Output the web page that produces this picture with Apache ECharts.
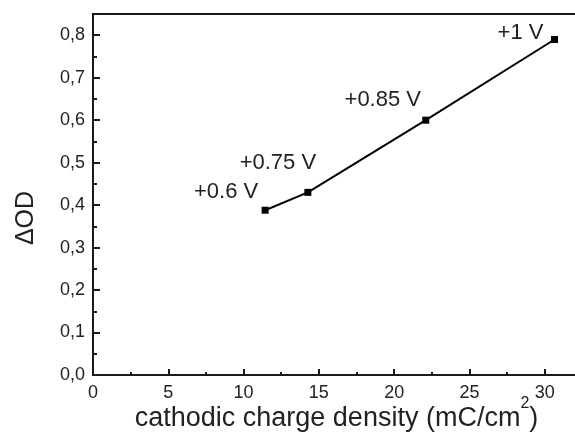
<!DOCTYPE html>
<html>
<head>
<meta charset="utf-8">
<script src="https://cdn.jsdelivr.net/npm/echarts@6/dist/echarts.min.js"></script>
<style>
html,body{margin:0;padding:0;background:#fff;}
#chart{width:575px;height:434px;}
</style>
</head>
<body>
<div id="chart"></div>
<script>
// Data
var chargeDensity = [11.43, 14.27, 22.1, 30.65];   // mC/cm2
var deltaOD = [0.388, 0.43, 0.6, 0.79];
var potentialLabels = ['+0.6 V', '+0.75 V', '+0.85 V', '+1 V'];
var xTitle = 'cathodic charge density (mC/cm';
var yTitle = '\u0394OD';

// label placement (style, pixel offsets from each point)
var labelOffsets = [[-39, -18], [-30, -29], [-43, -20], [-34, -7]];

var FONT = '"Liberation Sans", Arial, sans-serif';
var AX = '#1a1a1a';

var seriesData = chargeDensity.map(function (x, i) {
  return {
    value: [x, deltaOD[i]],
    label: { offset: labelOffsets[i] }
  };
});

var chart = echarts.init(document.getElementById('chart'), null, {renderer: 'canvas'});
chart.setOption({
  animation: false,
  backgroundColor: '#fff',
  grid: {
    left: 93, top: 14, width: 527, height: 361,
    containLabel: false, outerBoundsMode: 'none',
    show: true, borderColor: AX, borderWidth: 2, backgroundColor: 'transparent'
  },
  xAxis: [{
    type: 'value', min: 0, max: 35, interval: 5,
    axisLine: { show: true, lineStyle: { color: AX, width: 2 } },
    axisTick: { show: true, inside: true, length: 6, lineStyle: { color: AX, width: 2 } },
    minorTick: { show: true, splitNumber: 2, length: 3, lineStyle: { color: AX, width: 2 } },
    splitLine: { show: false },
    axisLabel: { fontFamily: FONT, fontSize: 18, color: '#222', margin: 9 },
    name: '{a|' + xTitle + '}{s|2}{a|)}',
    nameLocation: 'middle',
    nameGap: 21,
    nameMoveOverlap: false,
    nameTextStyle: {
      padding: [0, 40, 0, 0],
      rich: {
        a: { fontFamily: FONT, fontSize: 27, color: '#222', lineHeight: 46 },
        s: { fontFamily: FONT, fontSize: 16, color: '#222', lineHeight: 8, verticalAlign: 'top' }
      }
    }
  }],
  yAxis: [{
    type: 'value', min: 0, max: 0.85, interval: 0.1, position: 'left',
    axisLine: { show: true, lineStyle: { color: AX, width: 2 } },
    axisTick: { show: true, inside: true, length: 7, lineStyle: { color: AX, width: 2 } },
    splitLine: { show: false },
    axisLabel: {
      fontFamily: FONT, fontSize: 18, color: '#222', margin: 8, showMaxLabel: false,
      formatter: function (v) { return v > 0.82 ? '' : v.toFixed(1).replace('.', ','); }
    }
  }, {
    // minor ticks on the left edge (placed via offset)
    type: 'value', min: 0, max: 0.85, interval: 0.05, position: 'right', offset: -527,
    axisLine: { show: false },
    axisTick: { show: true, inside: false, length: 4, lineStyle: { color: AX, width: 2 } },
    axisLabel: { show: false },
    splitLine: { show: false }
  }],
  graphic: [{
    type: 'text',
    x: 26, y: 218,
    rotation: Math.PI / 2,
    style: {
      text: yTitle, fontFamily: FONT, fontSize: 25, fill: '#222',
      align: 'center', verticalAlign: 'middle'
    }
  }],
  series: [{
    type: 'line',
    xAxisIndex: 0, yAxisIndex: 0,
    data: seriesData,
    symbol: 'rect', symbolSize: 7,
    itemStyle: { color: '#000' },
    lineStyle: { color: '#000', width: 2 },
    label: {
      show: true, position: 'inside',
      formatter: function (p) { return potentialLabels[p.dataIndex]; },
      fontFamily: FONT, fontSize: 22, color: '#222',
      align: 'center', verticalAlign: 'middle'
    }
  }]
});
</script>
</body>
</html>
